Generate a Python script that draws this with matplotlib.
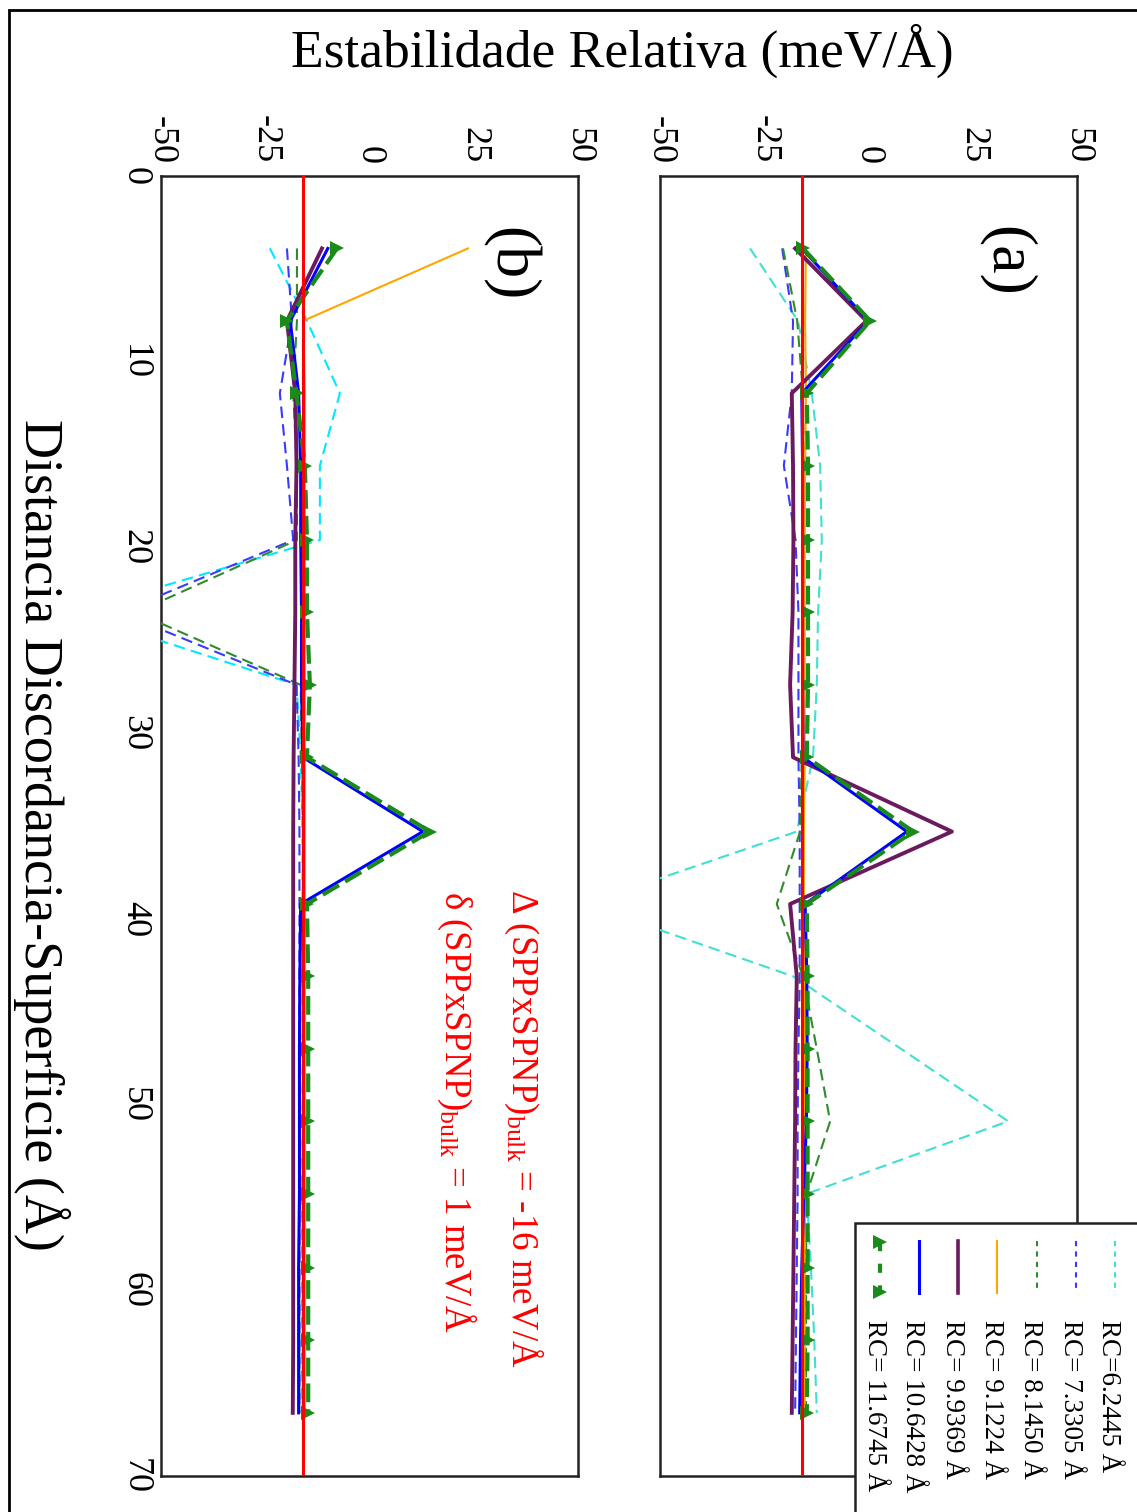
import matplotlib
matplotlib.use("Agg")
import matplotlib.pyplot as plt
from matplotlib.patches import Rectangle
from matplotlib.lines import Line2D

plt.rcParams['font.family'] = ['Liberation Serif', 'DejaVu Serif']
plt.rcParams['mathtext.fontset'] = 'custom'
plt.rcParams['mathtext.rm'] = 'Liberation Serif'
plt.rcParams['mathtext.it'] = 'Liberation Serif:italic'

# ---------------- data ----------------
distance = [3.9, 7.8, 11.7, 15.6, 19.6, 23.5, 27.4, 31.3, 35.3, 39.2,
            43.1, 47.0, 50.9, 54.8, 58.8, 62.7, 66.6]

labels = ["RC=6.2445 Å", "RC= 7.3305 Å", "RC= 8.1450 Å", "RC= 9.1224 Å",
          "RC= 9.9369 Å", "RC= 10.6428 Å", "RC= 11.6745 Å"]

# panel (a)
a_rc62 = [-28.4, -16.9, -13.6, -11.6, -11.2, -12.1, -12.4, -13.3, -17.2, -68.0,
          -18.0, 7.8, 33.5, -14.8, -13.8, -13.0, -12.4]
a_rc73 = [-20.7, -18.1, -18.4, -20.3, -17.5, -16.8, -16.8, -16.8, -16.5, -16.5,
          -16.5, -16.8, -17.0, -17.0, -17.2, -17.4, -17.6]
a_rc81 = [-20.5, -17.1, -15.7, -15.5, -15.5, -15.5, -15.5, -16.0, -16.4, -22.0,
          -15.7, -12.4, -9.2, -14.8, -15.0, -15.0, -15.0]
a_rc91 = [-15.0, -15.2, -15.0, -15.2, -15.3, -15.3, -15.3, -15.3, -15.5, -15.5,
          -15.3, -15.3, -15.2, -15.2, -15.3, -15.3, -15.3]
a_rc99 = [-17.6, -0.5, -18.4, -18.1, -18.0, -18.2, -18.8, -18.1, 20.0, -18.8,
          -17.2, -17.5, -17.6, -17.8, -18.0, -18.2, -18.4]
a_rc106 = [-16.0, 0.0, -16.0, -15.8, -15.8, -15.8, -15.8, -15.7, 9.2, -15.2,
           -14.8, -14.7, -14.9, -15.5, -16.0, -16.3, -16.5]
a_rc117 = [-15.7, 0.4, -14.8, -14.5, -14.5, -14.5, -14.5, -14.8, 10.7, -14.8,
           -14.6, -14.6, -14.6, -14.6, -14.6, -14.6, -14.8]

# panel (b)
b_rc62 = [-23.9, -15.0, -7.1, -11.9, -11.9, -71.0, -17.5, -16.5, -16.0, -16.0,
          -16.0, -16.0, -16.0, -16.2, -16.2, -16.3, -16.3]
b_rc73 = [-19.8, -18.6, -21.5, -19.8, -18.3, -60.0, -17.5, -17.0, -16.8, -16.8,
          -16.8, -16.8, -16.8, -16.8, -16.8, -16.8, -16.8]
b_rc81 = [-17.4, -17.4, -18.3, -17.4, -17.4, -56.0, -16.5, -16.2, -16.0, -16.0,
          -16.0, -16.0, -16.0, -16.0, -16.0, -16.0, -16.0]
b_rc91 = [23.6, -15.9, -15.5, -15.5, -15.5, -15.5, -15.5, -15.5, -15.5, -15.5,
          -15.5, -15.5, -15.5, -15.5, -15.5, -15.5, -15.5]
b_rc99 = [-11.4, -19.8, -17.8, -17.5, -17.8, -17.8, -18.0, -18.2, -18.3, -18.3,
          -18.3, -18.3, -18.3, -18.3, -18.3, -18.3, -18.4]
b_rc106 = [-10.0, -19.0, -17.0, -16.5, -16.5, -16.3, -16.3, -16.0, 12.8, -16.5,
           -16.7, -16.8, -16.8, -16.8, -17.0, -17.0, -17.0]
b_rc117 = [-7.8, -19.8, -17.5, -15.5, -15.0, -15.0, -14.3, -15.0, 14.5, -15.0,
           -14.7, -14.7, -14.7, -14.7, -14.7, -14.7, -14.7]

bulk_delta = -16
value_ticks = [-50, -25, 0, 25, 50]
dist_ticks = [0, 10, 20, 30, 40, 50, 60, 70]

# ---------------- styles ----------------
W, H = 1137, 1512
fig = plt.figure(figsize=(W / 100, H / 100), dpi=100)


def fx(x):
    return x / W


def fy(y):
    return 1 - y / H


styles = [
    dict(color='#40e0d0', lw=1.5, ls=(0, (5.5, 3))),
    dict(color='#3a3aff', lw=1.5, ls=(0, (5.5, 3))),
    dict(color='#2e8b2e', lw=1.5, ls=(0, (5.5, 3))),
    dict(color='#ffa500', lw=1.5, ls='-'),
    dict(color='#6b1a5f', lw=2.8, ls='-'),
    dict(color='#0000ff', lw=2.2, ls='-'),
    dict(color='#1a8a1a', lw=3.0, ls=(0, (4.5, 1.7)), marker='>', ms=10),
]
styles_b = [dict(s) for s in styles]
styles_b[0]['color'] = '#00e8ff'

series_a = [a_rc62, a_rc73, a_rc81, a_rc91, a_rc99, a_rc106, a_rc117]
series_b = [b_rc62, b_rc73, b_rc81, b_rc91, b_rc99, b_rc106, b_rc117]

ax_b = fig.add_axes([fx(161), fy(1476), 417 / W, 1300 / H])
ax_a = fig.add_axes([fx(660), fy(1476), 417 / W, 1300 / H])

for ax, series, sty in [(ax_a, series_a, styles), (ax_b, series_b, styles_b)]:
    for vals, st in zip(series, sty):
        ax.plot(vals, distance, color=st['color'], lw=st['lw'], ls=st['ls'],
                marker=st.get('marker', None), ms=st.get('ms', 0),
                markeredgewidth=0, zorder=3)
    ax.axvline(bulk_delta, color='#ff0000', lw=2.2, zorder=5)
    ax.set_xlim(-50, 50)
    ax.set_ylim(70, 0)
    ax.xaxis.tick_top()
    ax.set_xticks(value_ticks)
    ax.set_xticklabels([str(v) for v in value_ticks], rotation=-90)
    ax.set_yticks(dist_ticks)
    ax.set_yticklabels([str(v) for v in dist_ticks], rotation=-90, va='center')
    ax.tick_params(axis='x', length=0, pad=9, labelsize=26)
    ax.tick_params(axis='y', length=0, pad=7, labelsize=26)
    for sp in ax.spines.values():
        sp.set_linewidth(1.8)
        sp.set_color('#222222')

ax_a.tick_params(axis='y', labelleft=False)

# panel labels
fig.text(fx(1006), fy(261), "(a)", rotation=-90, ha='center', va='center', fontsize=46)
fig.text(fx(509), fy(264), "(b)", rotation=-90, ha='center', va='center', fontsize=46)

# annotations
fig.text(fx(512), fy(889), "Δ (SPPxSPNP)$_{\\mathrm{bulk}}$ = -16 meV/Å", rotation=-90,
         rotation_mode='anchor', ha='left', va='baseline', fontsize=26.5, color='#ff0000')
fig.text(fx(445), fy(891), "δ (SPPxSPNP)$_{\\mathrm{bulk}}$ = 1 meV/Å", rotation=-90,
         rotation_mode='anchor', ha='left', va='baseline', fontsize=26.5, color='#ff0000')

# axis titles
fig.text(fx(622), fy(67), "Estabilidade Relativa (meV/Å)", ha='center', va='baseline',
         fontsize=38.5)
fig.text(fx(25), fy(835), "Distancia Discordancia-Superficie (Å)", rotation=-90,
         rotation_mode='anchor', ha='center', va='baseline', fontsize=39)

# outer border
fig.patches.append(Rectangle((fx(9), fy(1600)), (1300 - 9) / W, (1600 - 10) / H,
                             transform=fig.transFigure, fill=False, edgecolor='black',
                             lw=2, clip_on=False, zorder=0))

# legend (drawn rotated, by hand)
fig.patches.append(Rectangle((fx(855), fy(1600)), (1300 - 855) / W, (1600 - 1223) / H,
                             transform=fig.transFigure, facecolor='white',
                             edgecolor='#222222', lw=1.8, clip_on=False, zorder=10))
sample_x = [1115, 1076, 1037, 997, 958, 919, 880]
for i, (lab, st) in enumerate(zip(labels, styles)):
    xs = sample_x[i]
    if st.get('marker'):
        ln = Line2D([fx(xs), fx(xs)], [fy(1242), fy(1292)], transform=fig.transFigure,
                    color=st['color'], lw=st['lw'], ls=(0, (2.2, 3.0)), zorder=11)
        fig.lines.append(ln)
        mk = Line2D([fx(xs), fx(xs)], [fy(1242), fy(1292)], transform=fig.transFigure,
                    color=st['color'], lw=0, marker='>', ms=10, markeredgewidth=0, zorder=11)
        fig.lines.append(mk)
    else:
        ls = st['ls'] if st['ls'] == '-' else (0, (2.5, 2.5))
        ln = Line2D([fx(xs), fx(xs)], [fy(1241), fy(1293)], transform=fig.transFigure,
                    color=st['color'], lw=st['lw'] if st['lw'] < 2.5 else 2.6, ls=ls, zorder=11)
        fig.lines.append(ln)
    fig.text(fx(xs - 12.5), fy(1320), lab, rotation=-90, rotation_mode='anchor',
             ha='left', va='baseline', fontsize=19.5, zorder=12)

fig.savefig("out.png", dpi=100)
